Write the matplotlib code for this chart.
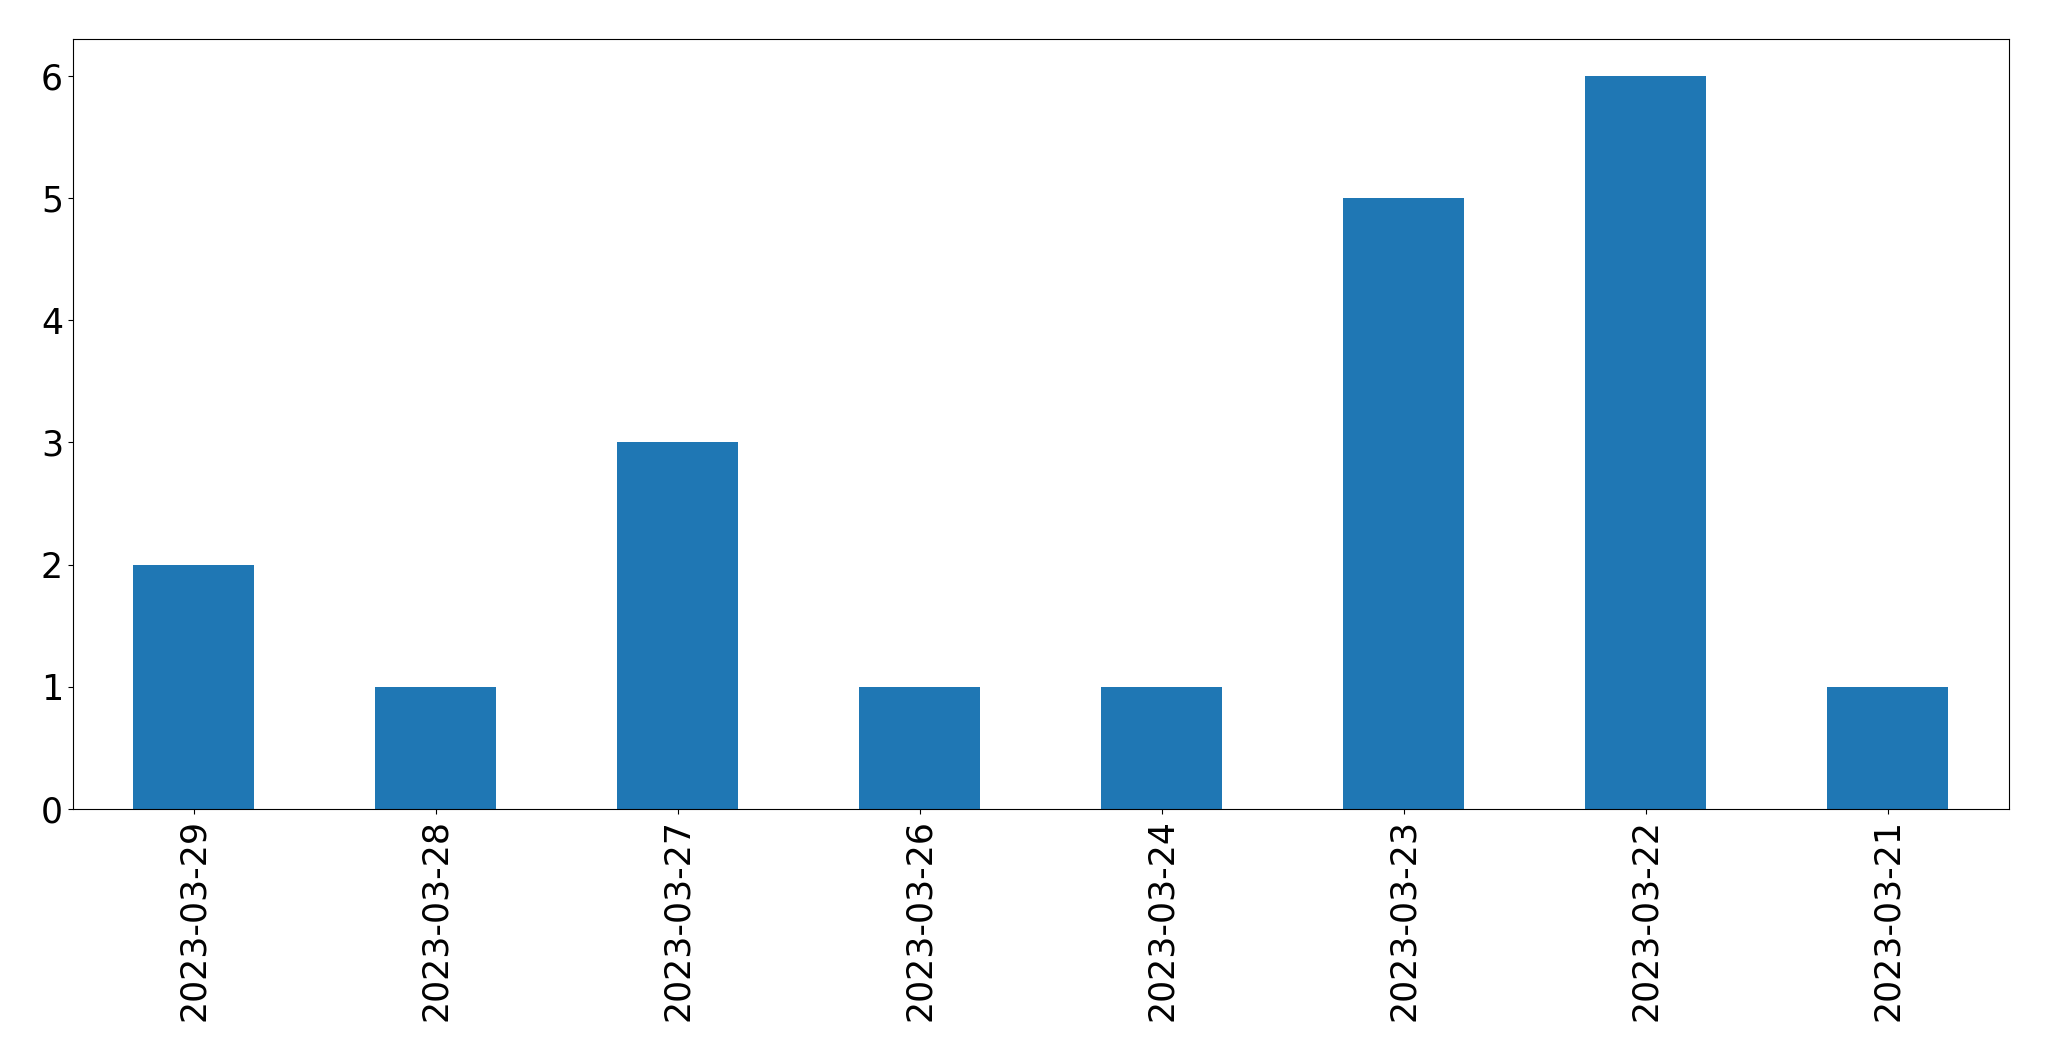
import matplotlib
matplotlib.use("Agg")
import matplotlib.pyplot as plt
import pandas as pd

# 每日计数（按日期倒序）
dates = ["2023-03-29", "2023-03-28", "2023-03-27", "2023-03-26",
         "2023-03-24", "2023-03-23", "2023-03-22", "2023-03-21"]
counts = [2, 1, 3, 1, 1, 5, 6, 1]

series = pd.Series(counts, index=dates)

fig = plt.figure(figsize=(20.49, 10.61), dpi=100)
ax = fig.add_axes([72.7 / 2049, 1 - 809 / 1061, (2009 - 72.7) / 2049, (809 - 39) / 1061])

series.plot(kind="bar", ax=ax, color="#1f77b4", width=0.5)

ax.set_ylim(0, 6.3)
ax.set_xlim(-0.5, len(dates) - 0.5)
ax.tick_params(axis="both", labelsize=25)
plt.setp(ax.get_xticklabels(), rotation=90)

fig.savefig("out.png", dpi=100, facecolor="white")
